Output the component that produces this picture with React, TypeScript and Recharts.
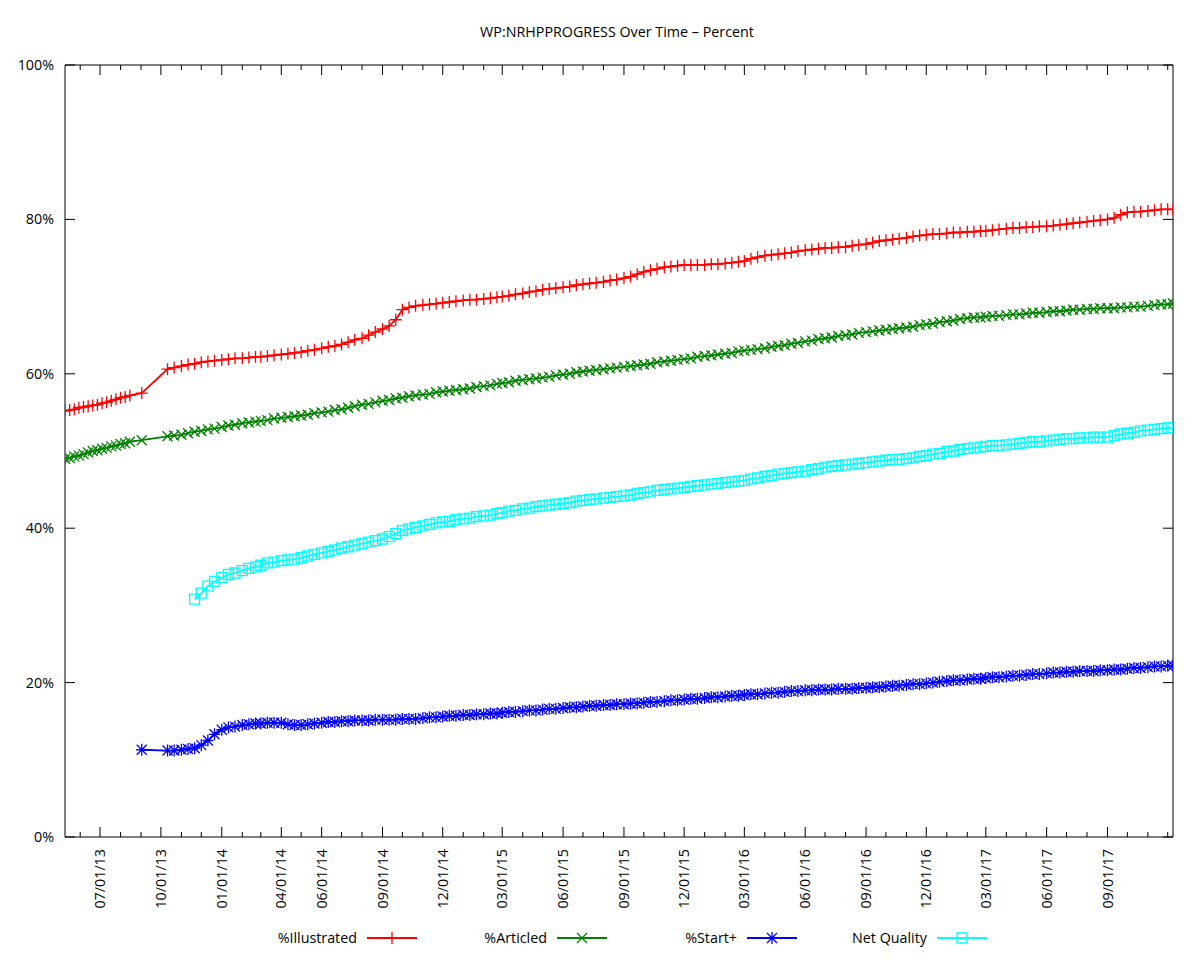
import { Line, LineChart, ReferenceArea, XAxis, YAxis } from 'recharts'

// sample dates (weekly before the Sep 2013 gap, then 1st/11th/21st of each month)
const dates = [
  '2013-05-09', '2013-05-16', '2013-05-23', '2013-05-30', '2013-06-06', '2013-06-13', '2013-06-20', '2013-06-27',
  '2013-07-04', '2013-07-11', '2013-07-18', '2013-07-25', '2013-08-01', '2013-08-08', '2013-08-15', '2013-09-02',
  '2013-10-11', '2013-10-21', '2013-11-01', '2013-11-11', '2013-11-21', '2013-12-01', '2013-12-11', '2013-12-21',
  '2014-01-01', '2014-01-11', '2014-01-21', '2014-02-01', '2014-02-11', '2014-02-21', '2014-03-01', '2014-03-11', '2014-03-21',
  '2014-04-01', '2014-04-11', '2014-04-21', '2014-05-01', '2014-05-11', '2014-05-21', '2014-06-01', '2014-06-11', '2014-06-21',
  '2014-07-01', '2014-07-11', '2014-07-21', '2014-08-01', '2014-08-11', '2014-08-21', '2014-09-01', '2014-09-11', '2014-09-21',
  '2014-10-01', '2014-10-11', '2014-10-21', '2014-11-01', '2014-11-11', '2014-11-21', '2014-12-01', '2014-12-11', '2014-12-21',
  '2015-01-01', '2015-01-11', '2015-01-21', '2015-02-01', '2015-02-11', '2015-02-21', '2015-03-01', '2015-03-11', '2015-03-21',
  '2015-04-01', '2015-04-11', '2015-04-21', '2015-05-01', '2015-05-11', '2015-05-21', '2015-06-01', '2015-06-11', '2015-06-21',
  '2015-07-01', '2015-07-11', '2015-07-21', '2015-08-01', '2015-08-11', '2015-08-21', '2015-09-01', '2015-09-11', '2015-09-21',
  '2015-10-01', '2015-10-11', '2015-10-21', '2015-11-01', '2015-11-11', '2015-11-21', '2015-12-01', '2015-12-11', '2015-12-21',
  '2016-01-01', '2016-01-11', '2016-01-21', '2016-02-01', '2016-02-11', '2016-02-21', '2016-03-01', '2016-03-11', '2016-03-21',
  '2016-04-01', '2016-04-11', '2016-04-21', '2016-05-01', '2016-05-11', '2016-05-21', '2016-06-01', '2016-06-11', '2016-06-21',
  '2016-07-01', '2016-07-11', '2016-07-21', '2016-08-01', '2016-08-11', '2016-08-21', '2016-09-01', '2016-09-11', '2016-09-21',
  '2016-10-01', '2016-10-11', '2016-10-21', '2016-11-01', '2016-11-11', '2016-11-21', '2016-12-01', '2016-12-11', '2016-12-21',
  '2017-01-01', '2017-01-11', '2017-01-21', '2017-02-01', '2017-02-11', '2017-02-21', '2017-03-01', '2017-03-11', '2017-03-21',
  '2017-04-01', '2017-04-11', '2017-04-21', '2017-05-01', '2017-05-11', '2017-05-21', '2017-06-01', '2017-06-11', '2017-06-21',
  '2017-07-01', '2017-07-11', '2017-07-21', '2017-08-01', '2017-08-11', '2017-08-21', '2017-09-01', '2017-09-11', '2017-09-21',
  '2017-10-01', '2017-10-11', '2017-10-21', '2017-11-01', '2017-11-11', '2017-11-21', '2017-12-01', '2017-12-09',
]

const illustrated = [
  55.2, 55.3, 55.4, 55.6, 55.7, 55.8, 55.9, 56.0, 56.2, 56.3, 56.5, 56.7, 56.9, 57.0, 57.2, 57.5,
  60.6, 60.8, 61.0, 61.2, 61.3, 61.5, 61.6, 61.7,
  61.8, 61.9, 62.0, 62.0, 62.1, 62.2, 62.2, 62.3, 62.4, 62.5, 62.6, 62.7, 62.8, 63.0, 63.1, 63.3, 63.5, 63.6,
  63.8, 64.1, 64.4, 64.6, 65.0, 65.4, 65.8, 66.2, 67.0, 68.3, 68.6, 68.8, 68.9, 69.0, 69.1, 69.2, 69.3, 69.4,
  69.5, 69.6, 69.6, 69.7, 69.8, 69.9, 70.0, 70.1, 70.3, 70.4, 70.6, 70.7, 70.9, 71.0, 71.1, 71.2, 71.3, 71.5,
  71.6, 71.7, 71.8, 71.9, 72.1, 72.2, 72.4, 72.6, 72.9, 73.2, 73.4, 73.6, 73.8, 73.9, 74.0, 74.1, 74.1, 74.1,
  74.1, 74.2, 74.2, 74.3, 74.4, 74.5, 74.6, 74.9, 75.1, 75.3, 75.4, 75.5, 75.6, 75.7, 75.9, 76.0, 76.1, 76.2,
  76.3, 76.3, 76.4, 76.4, 76.6, 76.7, 76.8, 77.0, 77.2, 77.3, 77.4, 77.5, 77.6, 77.8, 77.9, 78.0, 78.1, 78.1,
  78.2, 78.3, 78.3, 78.4, 78.4, 78.5, 78.5, 78.6, 78.7, 78.8, 78.9, 78.9, 79.0, 79.0, 79.1, 79.1, 79.2, 79.3,
  79.4, 79.5, 79.6, 79.7, 79.8, 79.9, 80.0, 80.2, 80.6, 80.9, 81.0, 81.0, 81.1, 81.2, 81.3, 81.3, 81.3,
]

const articled = [
  49.0, 49.1, 49.3, 49.4, 49.6, 49.8, 50.0, 50.1, 50.3, 50.4, 50.6, 50.7, 50.9, 51.0, 51.2, 51.4,
  51.9, 52.0, 52.1, 52.3, 52.5, 52.6, 52.8, 52.9,
  53.1, 53.3, 53.4, 53.6, 53.7, 53.8, 53.9, 54.0, 54.2, 54.3, 54.4, 54.5, 54.6, 54.7, 54.9, 55.0, 55.1, 55.3,
  55.4, 55.6, 55.8, 56.0, 56.1, 56.3, 56.5, 56.6, 56.8, 56.9, 57.1, 57.2, 57.3, 57.4, 57.6, 57.7, 57.8, 57.9,
  58.0, 58.1, 58.3, 58.4, 58.5, 58.7, 58.8, 58.9, 59.1, 59.2, 59.3, 59.4, 59.5, 59.6, 59.8, 59.9, 60.0, 60.2,
  60.3, 60.4, 60.5, 60.6, 60.7, 60.8, 60.9, 61.0, 61.1, 61.2, 61.3, 61.5, 61.6, 61.7, 61.8, 61.9, 62.0, 62.2,
  62.3, 62.4, 62.5, 62.6, 62.7, 62.9, 63.0, 63.1, 63.2, 63.3, 63.5, 63.6, 63.7, 63.9, 64.0, 64.2, 64.3, 64.5,
  64.6, 64.7, 64.9, 65.0, 65.1, 65.3, 65.4, 65.5, 65.6, 65.7, 65.8, 65.9, 66.0, 66.1, 66.3, 66.4, 66.5, 66.7,
  66.8, 66.9, 67.1, 67.2, 67.3, 67.3, 67.4, 67.5, 67.5, 67.6, 67.7, 67.7, 67.8, 67.9, 67.9, 68.0, 68.1, 68.1,
  68.2, 68.3, 68.3, 68.4, 68.4, 68.5, 68.5, 68.5, 68.6, 68.6, 68.7, 68.7, 68.8, 68.9, 69.0, 69.0, 69.1,
]

const startPlus = [
  null, null, null, null, null, null, null, null, null, null, null, null, null, null, null, 11.3,
  11.2, 11.2, 11.3, 11.4, 11.5, 11.9, 12.5, 13.3,
  13.9, 14.2, 14.3, 14.5, 14.6, 14.7, 14.7, 14.8, 14.8, 14.8, 14.6, 14.5, 14.5, 14.6, 14.7, 14.8, 14.9, 14.9,
  15.0, 15.0, 15.1, 15.1, 15.1, 15.2, 15.2, 15.2, 15.2, 15.3, 15.3, 15.3, 15.4, 15.5, 15.5, 15.6, 15.7, 15.7,
  15.8, 15.8, 15.9, 15.9, 16.0, 16.0, 16.1, 16.2, 16.2, 16.3, 16.4, 16.4, 16.5, 16.6, 16.6, 16.7, 16.8, 16.8,
  16.9, 17.0, 17.0, 17.1, 17.1, 17.2, 17.2, 17.3, 17.3, 17.4, 17.5, 17.5, 17.6, 17.7, 17.7, 17.8, 17.9, 17.9,
  18.0, 18.1, 18.1, 18.2, 18.3, 18.3, 18.4, 18.5, 18.5, 18.6, 18.7, 18.7, 18.8, 18.9, 18.9, 19.0, 19.0, 19.1,
  19.1, 19.1, 19.2, 19.2, 19.2, 19.3, 19.3, 19.4, 19.4, 19.5, 19.6, 19.6, 19.7, 19.8, 19.8, 19.9, 20.0, 20.1,
  20.2, 20.3, 20.3, 20.4, 20.5, 20.5, 20.6, 20.7, 20.7, 20.8, 20.9, 20.9, 21.0, 21.1, 21.1, 21.2, 21.3, 21.3,
  21.4, 21.4, 21.5, 21.5, 21.5, 21.6, 21.6, 21.7, 21.7, 21.8, 21.9, 21.9, 22.0, 22.1, 22.1, 22.2, 22.2,
]

const netQuality = [
  null, null, null, null, null, null, null, null, null, null, null, null, null, null, null, null,
  null, null, null, null, 30.8, 31.6, 32.5, 33.1,
  33.6, 34.0, 34.2, 34.5, 34.8, 35.0, 35.2, 35.5, 35.6, 35.8, 35.9, 36.0, 36.2, 36.4, 36.6, 36.8, 37.0, 37.2,
  37.4, 37.6, 37.8, 38.0, 38.2, 38.4, 38.6, 38.9, 39.3, 39.7, 39.9, 40.1, 40.3, 40.5, 40.7, 40.8, 40.9, 41.1,
  41.2, 41.3, 41.5, 41.6, 41.7, 41.9, 42.0, 42.2, 42.3, 42.5, 42.6, 42.8, 42.9, 43.0, 43.1, 43.2, 43.3, 43.5,
  43.6, 43.7, 43.8, 43.9, 44.0, 44.1, 44.2, 44.3, 44.5, 44.6, 44.7, 44.9, 45.0, 45.1, 45.2, 45.3, 45.4, 45.5,
  45.6, 45.7, 45.8, 45.9, 46.0, 46.1, 46.2, 46.4, 46.5, 46.7, 46.8, 47.0, 47.1, 47.2, 47.3, 47.4, 47.6, 47.7,
  47.9, 48.0, 48.1, 48.2, 48.3, 48.4, 48.5, 48.6, 48.7, 48.8, 48.9, 48.9, 49.0, 49.1, 49.3, 49.4, 49.6, 49.7,
  49.9, 50.0, 50.2, 50.3, 50.4, 50.5, 50.6, 50.7, 50.7, 50.8, 50.9, 51.0, 51.1, 51.2, 51.2, 51.3, 51.4, 51.5,
  51.6, 51.6, 51.7, 51.7, 51.8, 51.8, 51.8, 52.0, 52.2, 52.3, 52.4, 52.6, 52.7, 52.8, 52.9, 53.0, 53.0,
]

// minor ticks every month, labelled majors
const monthTicks = [
  '2013-06', '2013-07', '2013-08', '2013-09', '2013-10', '2013-11', '2013-12',
  '2014-01', '2014-02', '2014-03', '2014-04', '2014-05', '2014-06', '2014-07', '2014-08', '2014-09', '2014-10', '2014-11', '2014-12',
  '2015-01', '2015-02', '2015-03', '2015-04', '2015-05', '2015-06', '2015-07', '2015-08', '2015-09', '2015-10', '2015-11', '2015-12',
  '2016-01', '2016-02', '2016-03', '2016-04', '2016-05', '2016-06', '2016-07', '2016-08', '2016-09', '2016-10', '2016-11', '2016-12',
  '2017-01', '2017-02', '2017-03', '2017-04', '2017-05', '2017-06', '2017-07', '2017-08', '2017-09', '2017-10', '2017-11', '2017-12',
]
const tickLabels = [
  '07/01/13', '10/01/13', '01/01/14', '04/01/14', '06/01/14', '09/01/14', '12/01/14', '03/01/15', '06/01/15',
  '09/01/15', '12/01/15', '03/01/16', '06/01/16', '09/01/16', '12/01/16', '03/01/17', '06/01/17', '09/01/17',
]
const yTicks = [0, 20, 40, 60, 80, 100]

const W = 1200
const H = 960
const PLOT = { left: 65, right: 1173, top: 65, bottom: 837 }
const FONT = '"Open Sans", "Noto Sans", sans-serif'
const FS = 14.3

const day = (iso: string) =>
  Date.UTC(+iso.slice(0, 4), +iso.slice(5, 7) - 1, iso.length > 7 ? +iso.slice(8, 10) : 1)
const labelDay = (l: string) => Date.UTC(2000 + +l.slice(6, 8), +l.slice(0, 2) - 1, +l.slice(3, 5))

const series = [
  { key: 'illustrated', name: '%Illustrated', color: '#ff0000', shape: 'plus' },
  { key: 'articled', name: '%Articled', color: '#008000', shape: 'cross' },
  { key: 'startPlus', name: '%Start+', color: '#0000ff', shape: 'star' },
  { key: 'netQuality', name: 'Net Quality', color: '#00ffff', shape: 'box' },
]

const data = dates.map((d, i) => ({
  t: day(d),
  illustrated: illustrated[i],
  articled: articled[i],
  startPlus: startPlus[i],
  netQuality: netQuality[i],
}))

function Marker({ shape, cx, cy, color }: { shape: string; cx: number; cy: number; color: string }) {
  let d = ''
  if (shape === 'plus') d = `M${cx - 6},${cy}H${cx + 6}M${cx},${cy - 6}V${cy + 6}`
  if (shape === 'cross') d = `M${cx - 5},${cy - 5}L${cx + 5},${cy + 5}M${cx - 5},${cy + 5}L${cx + 5},${cy - 5}`
  if (shape === 'star')
    d = `M${cx - 5.5},${cy}H${cx + 5.5}M${cx},${cy - 6}V${cy + 6}M${cx - 5},${cy - 5}L${cx + 5},${cy + 5}M${cx - 5},${cy + 5}L${cx + 5},${cy - 5}`
  if (shape === 'box') d = `M${cx - 5},${cy - 5}h10v10h-10z`
  return <path d={d} fill="none" stroke={color} strokeWidth={1.3} />
}

function XTick(p: any) {
  const { x, y, payload } = p
  const idx = tickLabels.findIndex((l) => labelDay(l) === payload.value)
  const len = idx >= 0 ? 10 : 5
  return (
    <g>
      <line x1={x} x2={x} y1={y} y2={y - len} stroke="#000" />
      <line x1={x} x2={x} y1={PLOT.top} y2={PLOT.top + len} stroke="#000" />
      {idx >= 0 && (
        <text
          x={x}
          y={y + 12}
          transform={`rotate(-90 ${x} ${y + 12})`}
          textAnchor="end"
          dy="0.35em"
          fontSize={FS}
          fontFamily={FONT}
          fill="#000"
        >
          {tickLabels[idx]}
        </text>
      )}
    </g>
  )
}

function YTick(p: any) {
  const { x, y, payload } = p
  return (
    <g>
      <line x1={x} x2={x + 10} y1={y} y2={y} stroke="#000" />
      <line x1={PLOT.right} x2={PLOT.right - 10} y1={y} y2={y} stroke="#000" />
      <text x={x - 11} y={y} dy="0.35em" textAnchor="end" fontSize={FS} fontFamily={FONT} fill="#000">
        {payload.value}%
      </text>
    </g>
  )
}

export default function App() {
  const t0 = data[0].t
  const t1 = data[data.length - 1].t
  return (
    <div style={{ position: 'absolute', left: 0, top: 0, width: W, height: H, background: '#fff' }}>
      <LineChart
        width={W}
        height={H}
        data={data}
        margin={{ top: PLOT.top, right: W - PLOT.right, bottom: 0, left: 0 }}
      >
        <XAxis
          dataKey="t"
          type="number"
          domain={[t0, t1]}
          ticks={monthTicks.map(day)}
          interval={0}
          tick={(p) => <XTick {...p} />}
          tickSize={0}
          tickMargin={0}
          tickLine={false}
          axisLine={false}
          height={H - PLOT.bottom}
          allowDataOverflow
        />
        <YAxis
          type="number"
          domain={[0, 100]}
          ticks={yTicks}
          interval={0}
          tick={(p) => <YTick {...p} />}
          tickSize={0}
          tickMargin={0}
          tickLine={false}
          axisLine={false}
          width={PLOT.left}
          allowDataOverflow
        />
        <ReferenceArea x1={t0} x2={t1} y1={0} y2={100} fill="none" stroke="#000" strokeWidth={1} />
        {series.map((s) => (
          <Line
            key={s.key}
            dataKey={s.key}
            type="linear"
            stroke={s.color}
            strokeWidth={1.8}
            connectNulls
            activeDot={false}
            isAnimationActive={false}
            dot={(p: any) =>
              p.cy == null || p.value == null ? (
                <g key={`${s.key}-${p.index}`} />
              ) : (
                <Marker key={`${s.key}-${p.index}`} shape={s.shape} cx={p.cx} cy={p.cy} color={s.color} />
              )
            }
          />
        ))}
      </LineChart>
      <svg
        width={W}
        height={H}
        style={{ position: 'absolute', left: 0, top: 0, pointerEvents: 'none' }}
        fontFamily={FONT}
        fontSize={FS}
      >
        <text x={617} y={37} textAnchor="middle" fill="#000">
          WP:NRHPPROGRESS Over Time – Percent
        </text>
        {series.map((s, i) => {
          const x0 = 367 + i * 190
          return (
            <g key={s.key}>
              <text x={x0 - 10} y={938} dy="0.35em" textAnchor="end" fill="#000">
                {s.name}
              </text>
              <line x1={x0} x2={x0 + 50} y1={938} y2={938} stroke={s.color} strokeWidth={1.8} />
              <Marker shape={s.shape} cx={x0 + 25} cy={938} color={s.color} />
            </g>
          )
        })}
      </svg>
    </div>
  )
}
